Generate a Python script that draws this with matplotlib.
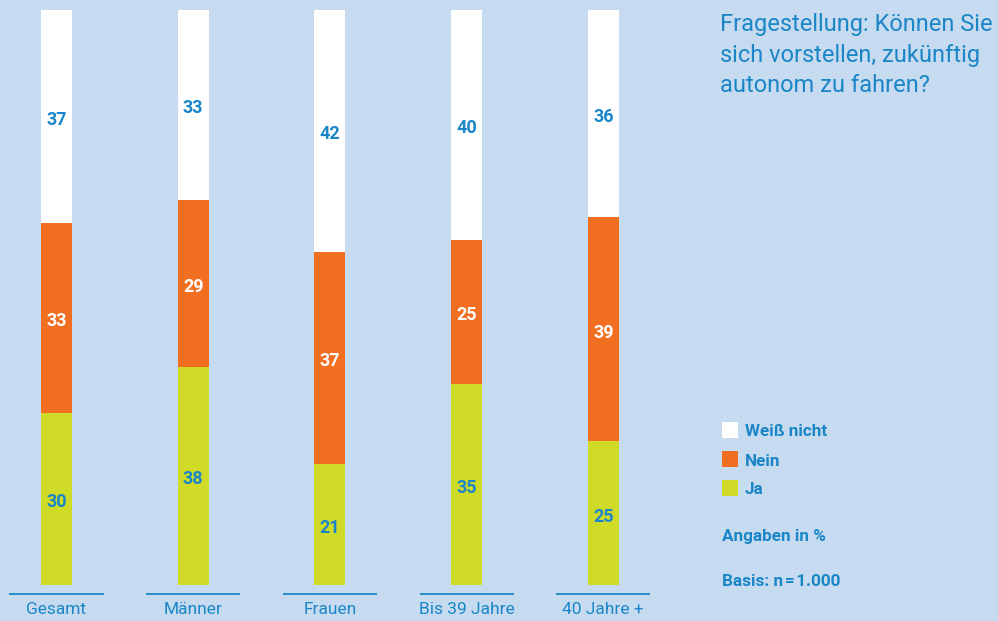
import matplotlib
matplotlib.use("Agg")
import matplotlib.pyplot as plt
import numpy as np

# Survey data (percent)
categories = ["Gesamt", "Männer", "Frauen", "Bis 39 Jahre", "40 Jahre +"]
ja = [30, 38, 21, 35, 25]
nein = [33, 29, 37, 25, 39]
weiss_nicht = [37, 33, 42, 40, 36]
series_names = ["Weiß nicht", "Nein", "Ja"]

title_text = "Fragestellung: Können Sie\nsich vorstellen, zukünftig\nautonom zu fahren?"
note_unit = "Angaben in %"
note_base = "Basis: n\u200a=\u200a1.000"

BG = "#c6dbef"
BLUE = "#1a86c8"
ORANGE = "#f26f21"
YELLOW = "#cfdb26"
WHITE = "#ffffff"

FONT = ["Roboto", "DejaVu Sans"]
plt.rcParams["font.family"] = FONT

W, H = 998, 621
fig = plt.figure(figsize=(W / 100, H / 100), dpi=100, facecolor=BG)
ax = fig.add_axes([0, 0, 1, 1])
ax.set_facecolor(BG)
for s in ax.spines.values():
    s.set_visible(False)
ax.set_xticks([])
ax.set_yticks([])

# pixel layout: bar centres 136.7 px apart, baseline at y=585 px, 100 % = 575 px
x0_px, step_px = 56.5, 136.7
base_px, unit_px = 585, 5.75
ax.set_xlim(-x0_px / step_px, (W - x0_px) / step_px)
ax.set_ylim(-(H - base_px) / unit_px, base_px / unit_px)

x = np.arange(len(categories))
bw = 31 / step_px
ja_a = np.array(ja)
nein_a = np.array(nein)
wn_a = np.array(weiss_nicht)

ax.bar(x, ja_a, width=bw, color=YELLOW, linewidth=0)
ax.bar(x, nein_a, width=bw, bottom=ja_a, color=ORANGE, linewidth=0)
ax.bar(x, wn_a, width=bw, bottom=ja_a + nein_a, color=WHITE, linewidth=0)

dy = -3.5 / unit_px  # nudge value labels slightly down
for i in range(len(categories)):
    ax.text(x[i], ja_a[i] / 2 + dy, f"{ja[i]}", ha="center", va="center",
            color=BLUE, fontsize=13, fontweight="bold")
    ax.text(x[i], ja_a[i] + nein_a[i] / 2 + dy, f"{nein[i]}", ha="center",
            va="center", color=WHITE, fontsize=13, fontweight="bold")
    ax.text(x[i], ja_a[i] + nein_a[i] + wn_a[i] / 2 + dy, f"{weiss_nicht[i]}",
            ha="center", va="center", color=BLUE, fontsize=13, fontweight="bold")
    # underline and category label
    half = 47 / step_px
    ax.plot([x[i] - half, x[i] + half], [-9 / unit_px] * 2, color=BLUE, lw=1.3,
            solid_capstyle="butt")
    ax.text(x[i], -25 / unit_px, categories[i], ha="center", va="center",
            color=BLUE, fontsize=12.5)


def fx(px):
    return px / W


def fy(py):
    return 1 - py / H


fig.text(fx(720), fy(13), title_text, ha="left", va="top", color=BLUE,
         fontsize=17, linespacing=1.42)

# legend
legend_colors = [WHITE, ORANGE, YELLOW]
for k, (name, col) in enumerate(zip(series_names, legend_colors)):
    top = 422 + 29 * k
    fig.patches.append(plt.Rectangle((fx(722), fy(top + 16)), 16 / W, 16 / H,
                                     transform=fig.transFigure, facecolor=col,
                                     edgecolor="none"))
    fig.text(fx(745), fy(top + 10), name, ha="left", va="center", color=BLUE,
             fontsize=12.3, fontweight="bold")

fig.text(fx(722), fy(536), note_unit, ha="left", va="center", color=BLUE,
         fontsize=12.3, fontweight="bold")
fig.text(fx(722), fy(581), note_base, ha="left", va="center", color=BLUE,
         fontsize=12.3, fontweight="bold")

fig.savefig("out.png", dpi=100, facecolor=BG)
